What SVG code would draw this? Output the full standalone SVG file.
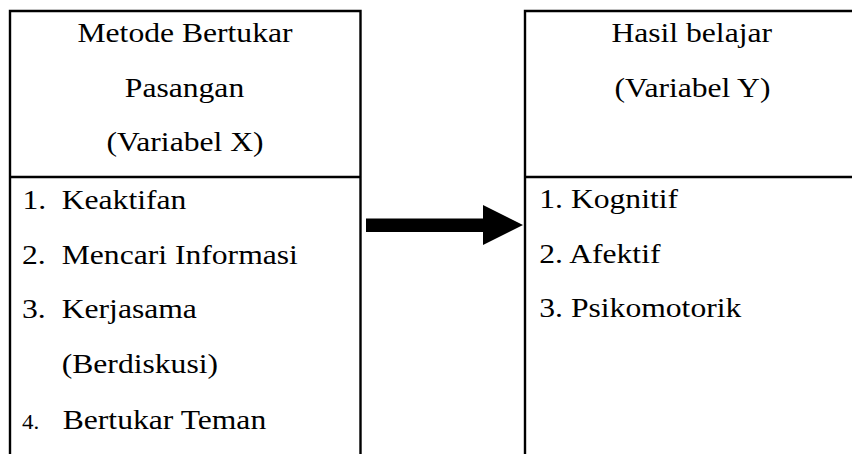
<svg xmlns="http://www.w3.org/2000/svg" width="852" height="454" viewBox="0 0 852 454">
  <style>
    .box { fill: none; stroke: #000; stroke-width: 2.4; }
    text { font-family: "Liberation Serif", "Times New Roman", serif; font-size: 27.5px; fill: #000; }
    .c { text-anchor: middle; }
    .small { font-size: 20px; }
  </style>
  <rect width="852" height="454" fill="#fff"/>
  <g id="node-x">
    <path class="box" d="M10,456 V11 H360.5 V456 M10,177 H360.5"/>
    <text class="c" transform="translate(185 41.7) scale(1.15 1)">Metode Bertukar</text>
    <text class="c" transform="translate(184.5 96.7) scale(1.15 1)">Pasangan</text>
    <text class="c" transform="translate(185 151) scale(1.15 1)">(Variabel X)</text>
    <text transform="translate(22.5 209.3) scale(1.15 1)">1.</text>
    <text transform="translate(61.7 209.3) scale(1.15 1)">Keaktifan</text>
    <text transform="translate(22 264) scale(1.15 1)">2.</text>
    <text transform="translate(61.7 264) scale(1.15 1)">Mencari Informasi</text>
    <text transform="translate(22 318.3) scale(1.15 1)">3.</text>
    <text transform="translate(61.7 318.3) scale(1.15 1)">Kerjasama</text>
    <text transform="translate(61.7 373.3) scale(1.15 1)">(Berdiskusi)</text>
    <text class="small" transform="translate(22 429.3) scale(1.15 1)">4.</text>
    <text transform="translate(62.7 429.3) scale(1.15 1)">Bertukar Teman</text>
  </g>
  <g id="node-y">
    <path class="box" d="M525,456 V11 H856 M525,177 H856"/>
    <text class="c" transform="translate(691.7 41.7) scale(1.15 1)">Hasil belajar</text>
    <text class="c" transform="translate(692.5 96.7) scale(1.15 1)">(Variabel Y)</text>
    <text transform="translate(539.3 208.3) scale(1.15 1)">1. Kognitif</text>
    <text transform="translate(539.3 263.3) scale(1.15 1)">2. Afektif</text>
    <text transform="translate(539.3 316.7) scale(1.15 1)">3. Psikomotorik</text>
  </g>
  <g id="connectors">
    <polygon points="366,218.5 483,218.5 483,205 523,225 483,245 483,232 366,232" fill="#000"/>
  </g>
</svg>
